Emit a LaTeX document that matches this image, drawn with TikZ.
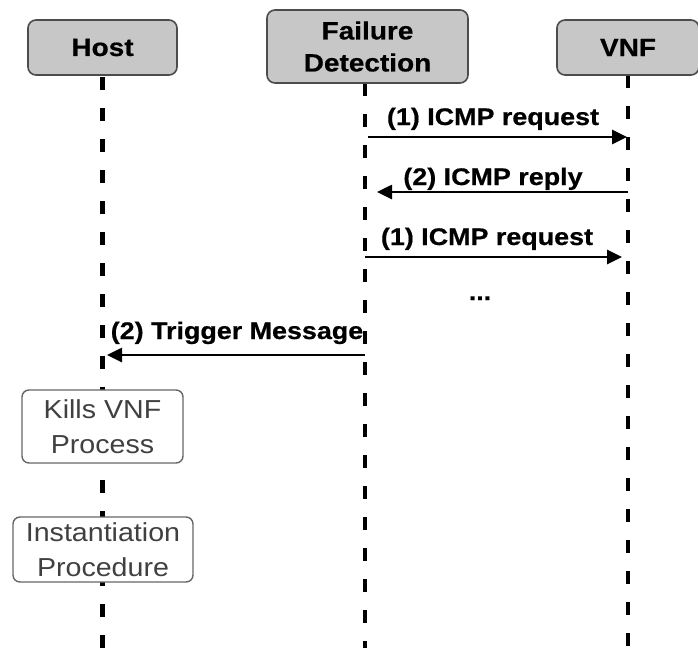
\documentclass[tikz,border=0pt]{standalone}
\usepackage{fontspec}
\setmainfont{Liberation Sans}
\newfontfamily\hdfont[FakeStretch=1.12,FakeBold=0.6]{Liberation Sans Bold}
\newfontfamily\bxfont[FakeStretch=1.1]{Liberation Sans}
\usetikzlibrary{arrows.meta}
\begin{document}
\begin{tikzpicture}[x=1pt,y=-1pt,
  head/.style={draw=black!70, line width=1.6pt, fill=black!22, rounded corners=8pt,
    inner sep=0pt, align=center, font=\hdfont\fontsize{25}{32}\selectfont},
  act/.style={draw=black!60, line width=1.4pt, fill=white, rounded corners=7pt,
    inner sep=0pt, align=center, text=black!75, font=\bxfont\fontsize{26}{35}\selectfont},
  life/.style={line width=4.2pt, dash pattern=on 13pt off 18pt},
  msg/.style={line width=2.6pt, -{Triangle[length=15pt,width=14pt]}},
  lab/.style={font=\hdfont\fontsize{24}{28}\selectfont, anchor=base, inner sep=0pt, text=black}]
\useasboundingbox (0,0) rectangle (698,648);
% lifelines first
\coordinate (hostb) at (102.5,648);
\coordinate (fdb) at (365,648);
\coordinate (vnfb) at (628,648);
\coordinate (hostt) at (102.5,77);
\coordinate (fdt) at (365,83);
\coordinate (vnft) at (628,75);
\draw[life] (hostt) -- (hostb);
\draw[life] (fdt) -- (fdb);
\draw[life] (vnft) -- (vnfb);
% headers
\node[head, minimum width=149pt, minimum height=55pt] (host) at (102.5,47.5) {Host};
\node[head, minimum width=201pt, minimum height=73pt] (fd) at (367.5,46.5) {Failure\\Detection};
\node[head, minimum width=142pt, minimum height=55pt] (vnf) at (628,47.5) {VNF};
% activity boxes
\node[act, minimum width=161pt, minimum height=73pt] (kill) at (102.5,426.5) {Kills VNF\\Process};
\node[act, minimum width=180pt, minimum height=65pt] (inst) at (103,549.5) {Instantiation\\Procedure};
% message endpoints
\coordinate (m1a) at (368,137); \coordinate (m1b) at (627,137);
\coordinate (m2a) at (628,192); \coordinate (m2b) at (377,192);
\coordinate (m3a) at (365,257); \coordinate (m3b) at (622,257);
\coordinate (m4a) at (365,355); \coordinate (m4b) at (107,355);
\draw[msg] (m1a) -- (m1b);
\draw[msg] (m2a) -- (m2b);
\draw[msg] (m3a) -- (m3b);
\draw[msg] (m4a) -- (m4b);
\node[lab] (l1) at (493,125) {(1) ICMP request};
\node[lab] (l2) at (493,185) {(2) ICMP reply};
\node[lab] (l3) at (487,245) {(1) ICMP request};
\node[lab] (l4) at (237,339) {(2) Trigger Message};
\node[lab] (dots) at (480,300) {...};
\end{tikzpicture}
\end{document}
